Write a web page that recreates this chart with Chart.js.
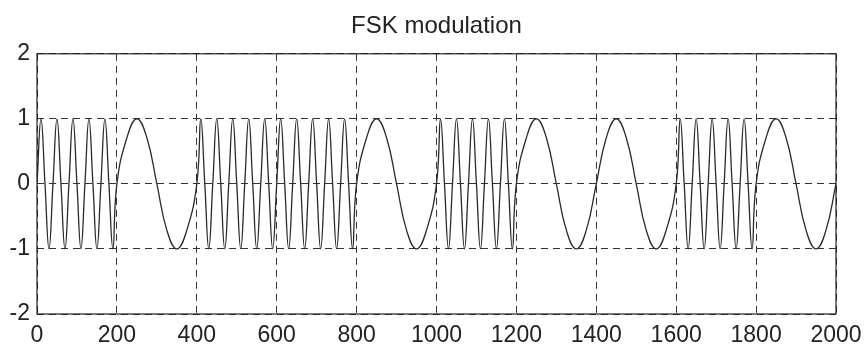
<!DOCTYPE html>
<html>
<head>
    <meta charset="UTF-8">
    <title>FSK modulation</title>
    <script src="https://cdn.jsdelivr.net/npm/chart.js@4.4.1/dist/chart.umd.min.js"></script>
</head>
<style>
    body { margin: 0; background: #fff; }
</style>
<body>
    <canvas id="wykres" width="866" height="350"></canvas>

    <script>
        // key points of the waveform (crossings, peaks, and halfway points on the slow bits)
        var sampleX = [
            0, 10, 20, 30, 40, 50, 60, 70, 80, 90, 100, 110, 120, 130, 140, 150, 160, 170, 180, 190, 200,
            225, 250, 275, 300, 325, 350, 375, 400,
            410, 420, 430, 440, 450, 460, 470, 480, 490, 500, 510, 520, 530, 540, 550, 560, 570, 580, 590, 600,
            610, 620, 630, 640, 650, 660, 670, 680, 690, 700, 710, 720, 730, 740, 750, 760, 770, 780, 790, 800,
            825, 850, 875, 900, 925, 950, 975, 1000,
            1010, 1020, 1030, 1040, 1050, 1060, 1070, 1080, 1090, 1100, 1110, 1120, 1130, 1140, 1150, 1160, 1170, 1180, 1190, 1200,
            1225, 1250, 1275, 1300, 1325, 1350, 1375, 1400,
            1425, 1450, 1475, 1500, 1525, 1550, 1575, 1600,
            1610, 1620, 1630, 1640, 1650, 1660, 1670, 1680, 1690, 1700, 1710, 1720, 1730, 1740, 1750, 1760, 1770, 1780, 1790, 1800,
            1825, 1850, 1875, 1900, 1925, 1950, 1975, 2000
        ];
        var sampleY = [
            0, 1, 0, -1, 0, 1, 0, -1, 0, 1, 0, -1, 0, 1, 0, -1, 0, 1, 0, -1, 0,
            0.71, 1, 0.71, 0, -0.71, -1, -0.71, 0,
            1, 0, -1, 0, 1, 0, -1, 0, 1, 0, -1, 0, 1, 0, -1, 0, 1, 0, -1, 0,
            1, 0, -1, 0, 1, 0, -1, 0, 1, 0, -1, 0, 1, 0, -1, 0, 1, 0, -1, 0,
            0.71, 1, 0.71, 0, -0.71, -1, -0.71, 0,
            1, 0, -1, 0, 1, 0, -1, 0, 1, 0, -1, 0, 1, 0, -1, 0, 1, 0, -1, 0,
            0.71, 1, 0.71, 0, -0.71, -1, -0.71, 0,
            0.71, 1, 0.71, 0, -0.71, -1, -0.71, 0,
            1, 0, -1, 0, 1, 0, -1, 0, 1, 0, -1, 0, 1, 0, -1, 0, 1, 0, -1, 0,
            0.71, 1, 0.71, 0, -0.71, -1, -0.71, 0
        ];
        var xTicks = [0, 200, 400, 600, 800, 1000, 1200, 1400, 1600, 1800, 2000];
        var yTicks = [-2, -1, 0, 1, 2];

        var ink = '#222';
        var tickFont = { family: 'Liberation Sans, Arial, sans-serif', size: 23 };

        // solid box round the plot, like matlab's axes
        var boxPlugin = {
            id: 'box',
            afterDraw: chart => {
                const a = chart.chartArea, c = chart.ctx;
                c.save();
                c.strokeStyle = ink;
                c.lineWidth = 1.2;
                c.setLineDash([]);
                c.strokeRect(a.left, a.top, a.right - a.left, a.bottom - a.top);
                c.restore();
            }
        };

        const ctx = document.getElementById('wykres');
        new Chart(ctx, {
            type: 'line',
            data: {
                datasets: [{
                    label: 'FSK',
                    data: sampleX.map((x, i) => ({ x: x, y: sampleY[i] })),
                    borderColor: '#2a2a2a',
                    borderWidth: 1.3,
                    pointRadius: 0,
                    tension: 0.45,
                    fill: false
                }]
            },
            options: {
                responsive: false,
                animation: false,
                layout: { padding: { left: 0, right: 30, top: 0, bottom: 0 } },
                plugins: {
                    legend: { display: false },
                    tooltip: { enabled: false },
                    title: {
                        display: true,
                        text: 'FSK modulation',
                        fullSize: false,
                        color: ink,
                        font: { family: 'Liberation Sans, Arial, sans-serif', size: 24, weight: 'normal' },
                        padding: { top: 12, bottom: 13 }
                    }
                },
                scales: {
                    x: {
                        type: 'linear',
                        min: xTicks[0],
                        max: xTicks[xTicks.length - 1],
                        afterBuildTicks: s => { s.ticks = xTicks.map(v => ({ value: v })); },
                        afterFit: s => { s.height = 36; s.paddingLeft = 0; s.paddingRight = 0; },
                        ticks: { color: ink, font: tickFont, padding: 8, maxRotation: 0, autoSkip: false,
                                 callback: v => String(v) },
                        grid: { color: '#333', lineWidth: 1, drawTicks: false },
                        border: { display: false, dash: [7, 5] }
                    },
                    y: {
                        type: 'linear',
                        min: yTicks[0],
                        max: yTicks[yTicks.length - 1],
                        afterBuildTicks: s => { s.ticks = yTicks.map(v => ({ value: v })); },
                        afterFit: s => { s.width = 37; },
                        ticks: { color: ink, font: tickFont, padding: 7, callback: v => String(v) },
                        grid: { color: '#333', lineWidth: 1, drawTicks: false },
                        border: { display: false, dash: [7, 5] }
                    }
                }
            },
            plugins: [boxPlugin]
        });
    </script>
</body>
</html>
